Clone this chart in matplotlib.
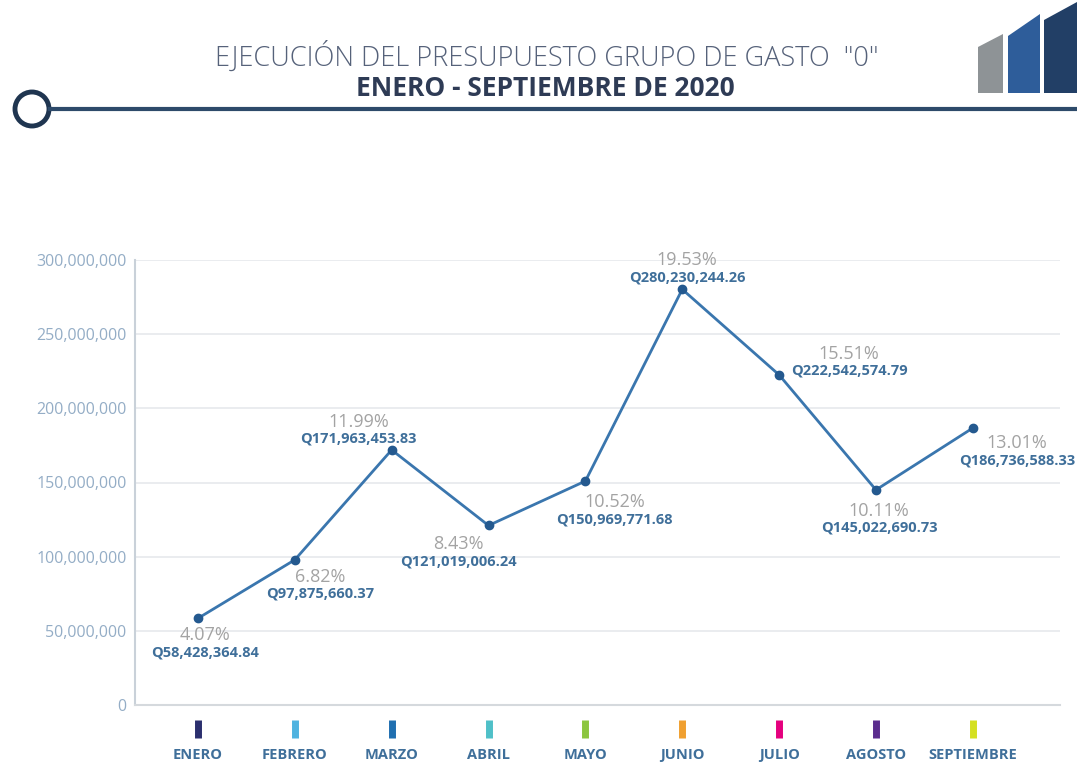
import matplotlib.pyplot as plt
from matplotlib.patches import Circle, Polygon
from matplotlib.ticker import FuncFormatter

meses = ["ENERO", "FEBRERO", "MARZO", "ABRIL", "MAYO", "JUNIO", "JULIO", "AGOSTO", "SEPTIEMBRE"]
montos = [58428364.84, 97875660.37, 171963453.83, 121019006.24, 150969771.68,
          280230244.26, 222542574.79, 145022690.73, 186736588.33]
porcentajes = ["4.07%", "6.82%", "11.99%", "8.43%", "10.52%", "19.53%", "15.51%", "10.11%", "13.01%"]
colores_mes = ["#2b2f6e", "#4fb3e0", "#1f6fb0", "#4fc0c8", "#8cc63f",
               "#f0a030", "#e5007e", "#5b2d8e", "#d4e021"]
# label offsets in pixels (dx, dy) from each point
offsets = [(7, -17), (25, -17), (-33, 28), (-30, -19), (29, -21),
           (5, 29), (70, 21), (3, -21), (44, -15)]

plt.rcParams["font.family"] = ["Open Sans", "DejaVu Sans"]

fig = plt.figure(figsize=(10.77, 7.62), dpi=100)
ax = fig.add_axes([135 / 1077, 57 / 762, 925 / 1077, 445 / 762])

x = list(range(len(meses)))
ax.plot(x, montos, color="#3a76ae", lw=2, marker="o", ms=6,
        mfc="#24598f", mec="#24598f", zorder=3)

for i, (m, p) in enumerate(zip(montos, porcentajes)):
    dx, dy = offsets[i]
    ax.annotate(p, (i, m), xytext=(dx, dy), textcoords="offset pixels",
                ha="center", va="center", fontsize=13, color="#a3a3a3")
    ax.annotate("Q{:,.2f}".format(m), (i, m), xytext=(dx, dy - 17),
                textcoords="offset pixels", ha="center", va="center",
                fontsize=10.5, color="#3f6f9a", fontweight="bold")

ax.set_xlim(-0.65, 8.9)
ax.set_ylim(0, 300000000)
ax.set_yticks(range(0, 300000001, 50000000))
ax.yaxis.set_major_formatter(FuncFormatter(lambda v, _: "{:,.0f}".format(v)))
ax.grid(axis="y", color="#e6e9ec", lw=1.2)
ax.set_axisbelow(True)

ax.set_xticks(x)
ax.set_xticklabels(meses)
ax.tick_params(axis="x", length=0, pad=31, labelsize=10.5, labelcolor="#3f6f9a")
ax.tick_params(axis="y", length=0, pad=6, labelsize=11.5, labelcolor="#94adc6")
for lab in ax.get_xticklabels():
    lab.set_fontweight("bold")

for s in ["top", "right"]:
    ax.spines[s].set_visible(False)
ax.spines["left"].set_color("#c9d1d9")
ax.spines["bottom"].set_color("#d5d9dd")
ax.spines["left"].set_linewidth(1.5)
ax.spines["bottom"].set_linewidth(1.5)

# little coloured bars under the axis
trans = ax.get_xaxis_transform()
for i, c in enumerate(colores_mes):
    ax.vlines(i, -33 / 445, -15 / 445, transform=trans, colors=c, lw=5, clip_on=False)

# header
fig.text(547 / 1077, 1 - 57 / 762, 'EJECUCIÓN DEL PRESUPUESTO GRUPO DE GASTO  "0"',
         ha="center", va="center", fontsize=19.5, color="#56627a", fontweight="light")
fig.text(545 / 1077, 1 - 88 / 762, "ENERO - SEPTIEMBRE DE 2020",
         ha="center", va="center", fontsize=19, color="#2e3b55", fontweight="bold")
fig.add_artist(plt.Line2D([50 / 1077, 1], [1 - 109 / 762] * 2, transform=fig.transFigure,
                          color="#2d4a6a", lw=3))
fig.add_artist(Circle((32, 762 - 109), 17, transform=None, fc="white",
                      ec="#1f3550", lw=3.5))

# logo bars
logo = [([(978, 93), (978, 47), (1003, 34), (1003, 93)], "#8e9396"),
        ([(1008, 93), (1008, 36), (1040, 14), (1040, 93)], "#2e5d9a"),
        ([(1044, 93), (1044, 20), (1077, 2), (1077, 93)], "#223f66")]
for pts, c in logo:
    fig.add_artist(Polygon([(px, 762 - py) for px, py in pts], closed=True,
                           transform=None, fc=c, ec="none"))

fig.savefig("out.png", dpi=100)
